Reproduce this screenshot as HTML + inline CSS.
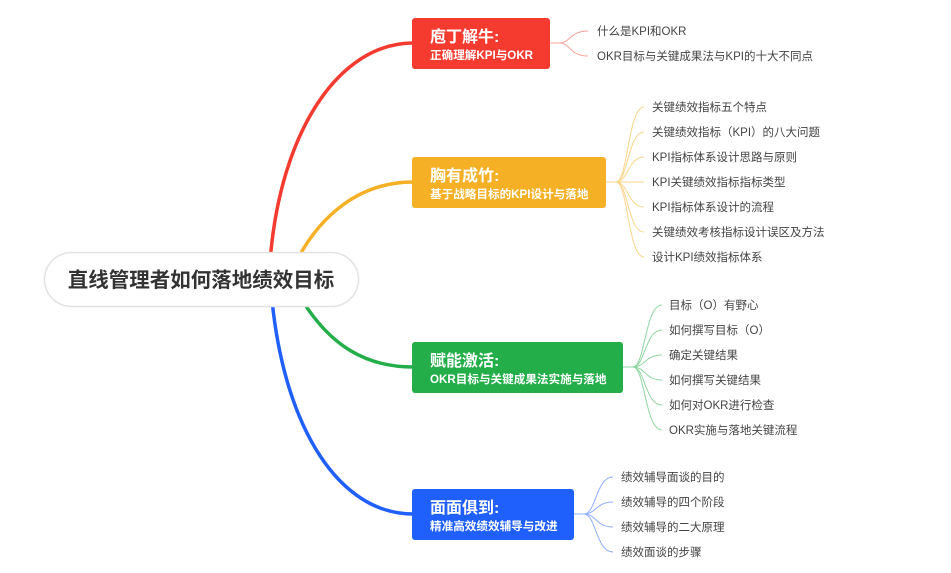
<!DOCTYPE html>
<html><head><meta charset="utf-8"><style>
html,body{margin:0;padding:0;background:#fff;width:951px;height:573px;overflow:hidden}
svg{display:block}
text{font-family:"Liberation Sans","Noto Sans CJK SC",sans-serif}
.t{font-size:16px;font-weight:bold;fill:#fff}
.s{font-size:11.6px;font-weight:bold;fill:#fff}
.c{font-size:11.5px;fill:#444}
</style></head><body>
<svg width="951" height="573" viewBox="0 0 951 573" xmlns="http://www.w3.org/2000/svg">
<path d="M270,262 C280,130 340,43 413,43" fill="none" stroke="#f53b2f" stroke-width="3.5"/>
<path d="M296,262 C320,215 360,182 413,182" fill="none" stroke="#f5b026" stroke-width="3.5"/>
<path d="M302,300 C330,345 365,367 413,367" fill="none" stroke="#23ae4a" stroke-width="3.5"/>
<path d="M272,300 C285,430 340,514 413,514" fill="none" stroke="#1f5ffb" stroke-width="3.5"/>
<rect x="44.5" y="252.5" width="314" height="54" rx="27" fill="#fff" stroke="#e2e2e2" stroke-width="1.5"/>
<text x="201" y="287" text-anchor="middle" style="font-size:20.5px;font-weight:bold;fill:#333">直线管理者如何落地绩效目标</text>
<rect x="412" y="18" width="138" height="51" rx="3" fill="#f53b2f"/>
<text x="430" y="42" class="t">庖丁解牛:</text>
<text x="430" y="59" class="s">正确理解KPI与OKR</text>
<rect x="412" y="157" width="194" height="51" rx="3" fill="#f5b026"/>
<text x="430" y="181" class="t">胸有成竹:</text>
<text x="430" y="198" class="s">基于战略目标的KPI设计与落地</text>
<rect x="412" y="342" width="211" height="51" rx="3" fill="#23ae4a"/>
<text x="430" y="366" class="t">赋能激活:</text>
<text x="430" y="383" class="s">OKR目标与关键成果法实施与落地</text>
<rect x="412" y="489" width="162" height="51" rx="3" fill="#1f5ffb"/>
<text x="430" y="513" class="t">面面俱到:</text>
<text x="430" y="530" class="s">精准高效绩效辅导与改进</text>
<g fill="none" stroke="#f9a39c" stroke-width="1">
<path d="M550,43 H560 C570,43 570,31 588,31"/>
<path d="M550,43 H560 C570,43 570,56 588,56"/>
</g>
<text x="597" y="35" class="c">什么是KPI和OKR</text>
<text x="597" y="60" class="c">OKR目标与关键成果法与KPI的十大不同点</text>
<g fill="none" stroke="#fbd58a" stroke-width="1">
<path d="M606,182 H616 C628,182 628,107 644,107"/>
<path d="M606,182 H616 C628,182 628,132 644,132"/>
<path d="M606,182 H616 C628,182 628,157 644,157"/>
<path d="M606,182 H644"/>
<path d="M606,182 H616 C628,182 628,207 644,207"/>
<path d="M606,182 H616 C628,182 628,232 644,232"/>
<path d="M606,182 H616 C628,182 628,257 644,257"/>
</g>
<text x="652" y="111" class="c">关键绩效指标五个特点</text>
<text x="652" y="136" class="c">关键绩效指标（KPI）的八大问题</text>
<text x="652" y="161" class="c">KPI指标体系设计思路与原则</text>
<text x="652" y="186" class="c">KPI关键绩效指标指标类型</text>
<text x="652" y="211" class="c">KPI指标体系设计的流程</text>
<text x="652" y="236" class="c">关键绩效考核指标设计误区及方法</text>
<text x="652" y="261" class="c">设计KPI绩效指标体系</text>
<g fill="none" stroke="#8fd6a2" stroke-width="1">
<path d="M623,367 H633 C645,367 645,305 662,305"/>
<path d="M623,367 H633 C645,367 645,330 662,330"/>
<path d="M623,367 H633 C645,367 645,355 662,355"/>
<path d="M623,367 H633 C645,367 645,380 662,380"/>
<path d="M623,367 H633 C645,367 645,405 662,405"/>
<path d="M623,367 H633 C645,367 645,430 662,430"/>
</g>
<text x="669" y="309" class="c">目标（O）有野心</text>
<text x="669" y="334" class="c">如何撰写目标（O）</text>
<text x="669" y="359" class="c">确定关键结果</text>
<text x="669" y="384" class="c">如何撰写关键结果</text>
<text x="669" y="409" class="c">如何对OKR进行检查</text>
<text x="669" y="434" class="c">OKR实施与落地关键流程</text>
<g fill="none" stroke="#8fb0fc" stroke-width="1">
<path d="M574,514 H584 C596,514 596,477 613,477"/>
<path d="M574,514 H584 C596,514 596,502 613,502"/>
<path d="M574,514 H584 C596,514 596,527 613,527"/>
<path d="M574,514 H584 C596,514 596,552 613,552"/>
</g>
<text x="621" y="481" class="c">绩效辅导面谈的目的</text>
<text x="621" y="506" class="c">绩效辅导的四个阶段</text>
<text x="621" y="531" class="c">绩效辅导的二大原理</text>
<text x="621" y="556" class="c">绩效面谈的步骤</text>
</svg>
</body></html>
